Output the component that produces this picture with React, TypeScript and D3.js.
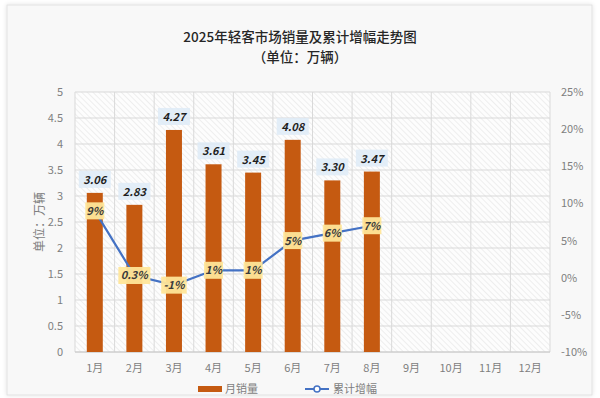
import React from 'react';
import * as d3 from 'd3';

const months = ['1月', '2月', '3月', '4月', '5月', '6月', '7月', '8月', '9月', '10月', '11月', '12月'];
const sales = [3.06, 2.83, 4.27, 3.61, 3.45, 4.08, 3.3, 3.47];
const growth = [9, 0.3, -1, 1, 1, 5, 6, 7];
const leftTicks = [0, 0.5, 1, 1.5, 2, 2.5, 3, 3.5, 4, 4.5, 5];
const rightTicks = [-10, -5, 0, 5, 10, 15, 20, 25];

const W = 600;
const H = 398;
const m = {left: 75, right: 550, top: 92, bottom: 352};
const font = '"Noto Sans CJK SC", "Noto Sans", sans-serif';

export default function App() {
  const x = d3.scaleBand<string>().domain(months).range([m.left, m.right]);
  const yL = d3.scaleLinear().domain([0, 5]).range([m.bottom, m.top]);
  const yR = d3.scaleLinear().domain([-10, 25]).range([m.bottom, m.top]);
  const cx = (i: number) => (x(months[i]) as number) + x.bandwidth() / 2;
  const barW = 16;

  const line = d3.line<number>().x((_, i) => cx(i)).y(d => yR(d));

  return (
    <svg width={W} height={H} style={{position: 'absolute', left: 0, top: 0}} fontFamily={font}>
      <defs>
        <pattern id="hatch" width="4" height="4" patternUnits="userSpaceOnUse" patternTransform="rotate(-45)">
          <rect width="4" height="4" fill="#fdfdfd" />
          <line x1="0" y1="0" x2="0" y2="4" stroke="#e4e4e4" strokeWidth="1.2" />
        </pattern>
        <filter id="sh" x="-5%" y="-5%" width="110%" height="110%">
          <feDropShadow dx="0" dy="0" stdDeviation="2" floodColor="#000" floodOpacity="0.12" />
        </filter>
      </defs>
      <rect x={0} y={0} width={W} height={H} fill="#ffffff" />
      <rect x={7} y={5} width={585} height={390} fill="#f8f8f8" stroke="#e2e2e2" filter="url(#sh)" />

      <text x={300} y={42} textAnchor="middle" fontSize={13.5} fill="#262626" fontWeight={500}>2025年轻客市场销量及累计增幅走势图</text>
      <text x={300} y={62} textAnchor="middle" fontSize={13.5} fill="#262626" fontWeight={500}>（单位：万辆）</text>

      <rect x={m.left} y={m.top} width={m.right - m.left} height={m.bottom - m.top} fill="url(#hatch)" />
      {leftTicks.map(t => (
        <line key={'h' + t} x1={m.left} x2={m.right} y1={yL(t)} y2={yL(t)} stroke="#d9d9d9" />
      ))}
      {months.map((mo, i) => (
        <line key={'v' + mo} x1={x(mo) as number} x2={x(mo) as number} y1={m.top} y2={m.bottom} stroke="#d9d9d9" />
      ))}
      <line x1={m.right} x2={m.right} y1={m.top} y2={m.bottom} stroke="#d9d9d9" />
      <line x1={m.left} x2={m.right} y1={m.bottom} y2={m.bottom} stroke="#c8c8c8" />

      {leftTicks.map(t => (
        <text key={'l' + t} x={m.left - 12} y={yL(t) + 4} textAnchor="end" fontSize={11} fill="#7f7f7f">{t}</text>
      ))}
      {rightTicks.map(t => (
        <text key={'r' + t} x={561} y={yR(t) + 4} textAnchor="start" fontSize={11} fill="#7f7f7f">{t}%</text>
      ))}
      {months.map((mo, i) => (
        <text key={'x' + mo} x={cx(i)} y={372} textAnchor="middle" fontSize={11} fill="#7f7f7f">{mo}</text>
      ))}
      <text transform={`translate(44,${(m.top + m.bottom) / 2}) rotate(-90)`} textAnchor="middle" fontSize={12} fill="#7f7f7f">单位：万辆</text>

      {sales.map((v, i) => (
        <rect key={'b' + i} x={cx(i) - barW / 2} y={yL(v)} width={barW} height={yL(0) - yL(v)} fill="#c55a11" />
      ))}
      {sales.map((v, i) => (
        <g key={'bl' + i}>
          <rect x={cx(i) - 16} y={yL(v) - 22} width={32} height={17} fill="#deebf7" opacity={0.85} />
          <text x={cx(i)} y={yL(v) - 9} textAnchor="middle" fontSize={11} fontWeight="bold" fontStyle="italic" fill="#1f1f1f">{v.toFixed(2)}</text>
        </g>
      ))}

      <path d={line(growth) as string} fill="none" stroke="#4472c4" strokeWidth={2.2} />
      {growth.map((v, i) => {
        const label = `${v}%`;
        const w = label.length * 6.5 + 6;
        return (
          <g key={'gl' + i}>
            <rect x={cx(i) - w / 2} y={yR(v) - 8.5} width={w} height={17} fill="#ffe699" opacity={0.95} />
            <text x={cx(i)} y={yR(v) + 4} textAnchor="middle" fontSize={11} fontWeight={600} fontStyle="italic" fill="#3a3a3a">{label}</text>
          </g>
        );
      })}

      <rect x={198} y={386} width={24} height={6} fill="#c55a11" />
      <text x={225} y={393} fontSize={11} fill="#7f7f7f">月销量</text>
      <line x1={305} x2={329} y1={389} y2={389} stroke="#4472c4" strokeWidth={2} />
      <circle cx={317} cy={389} r={3} fill="#fff" stroke="#4472c4" strokeWidth={1.5} />
      <text x={333} y={393} fontSize={11} fill="#7f7f7f">累计增幅</text>
    </svg>
  );
}
